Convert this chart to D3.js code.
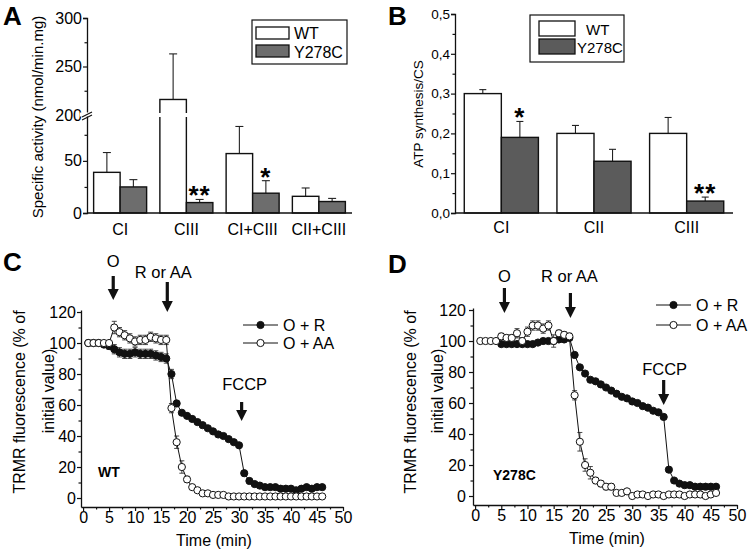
<!DOCTYPE html>
<html><head><meta charset="utf-8">
<script src="https://cdn.jsdelivr.net/npm/d3@7"></script>
<style>
body{margin:0;background:#fff}
svg{display:block}
text{font-family:"Liberation Sans",Arial,Helvetica,sans-serif;fill:#000}
</style>
</head><body>
<svg id="c" width="750" height="554"></svg>
<script>
// ---------------- DATA ----------------
// Panel A
const catsA = ["CI", "CIII", "CI+CIII", "CII+CIII"];
const wtA = [39, 216, 57, 16];
const wtErrA = [19, 47, 26, 8];
const mutA = [25, 10, 19, 11];
const mutErrA = [7, 3, 12, 3];
const sigA = ["", "**", "*", ""];
const majorTicksA = [0, 50, 200, 250, 300];
const minorTicksA = [25, 75, 225, 275];

// Panel B
const catsB = ["CI", "CII", "CIII"];
const wtB = [0.30, 0.20, 0.20];
const wtErrB = [0.01, 0.02, 0.04];
const mutB = [0.19, 0.13, 0.03];
const mutErrB = [0.04, 0.03, 0.01];
const sigB = ["*", "", "**"];
const majorTicksB = [0, 0.1, 0.2, 0.3, 0.4, 0.5];
const minorTicksB = [0.05, 0.15, 0.25, 0.35, 0.45];

const groups = ["WT", "Y278C"];

// Panel C (WT)
const timeC = [1,2,3,4,5,6,7,8,9,10,11,12,13,14,15,16,17,18,19,20,21,22,23,24,25,26,27,28,29,30,31,32,33,34,35,36,37,38,39,40,41,42,43,44,45,46];
const rotenoneC = [100,100,100,99,98,96,94,93,93,94,93,93,93,92,91,90,80,61,55,53,51,49,47,45,43,41,40,38,36,34,16,11,9,8,7,7,7,6,6,6,5,6,7,6,7,7];
const rotenoneErrC = [0,0,0,1,2,3,3,3,3,3,3,3,3,3,3,3,3,2,1,1,1,1,1,1,1,1,1,1,1,1,1,1,1,1,1,1,1,1,1,1,1,1,1,1,1,1];
const antimycinC = [100,100,100,100,100,110,107,105,103,101,102,102,104,103,102,102,58,36,20,12,7,5,3,3,2,2,2,1,1,1,1,1,1,1,1,1,1,1,1,1,1,1,1,1,1,1];
const antimycinErrC = [0,0,0,0,0,4,3,3,3,3,3,3,3,3,3,3,3,4,4,2,1,1,1,1,1,0,0,0,0,0,0,0,0,0,0,0,0,0,0,0,0,0,0,0,0,0];

// Panel D (Y278C)
const timeRD = [5,6,7,8,9,10,11,12,13,14,15,16,17,18,19,20,21,22,23,24,25,26,27,28,29,30,31,32,33,34,35,36,37,38,39,40,41,42,43,44,45,46];
const rotenoneD = [98,98,98,98,98,98,98,99,100,100,100,101,101,102,91,83,79,75,74,72,70,68,66,64,63,61,60,58,57,55,54,51,17,10,8,7,7,6,6,6,6,6];
const rotenoneErrD = [1,1,1,1,1,1,1,1,1,1,1,1,1,1,1,1,1,1,1,1,1,1,1,1,1,1,1,1,1,1,1,1,1,1,1,1,1,1,1,1,1,1];
const timeAD = [1,2,3,4,5,6,7,8,9,10,11,12,13,14,15,16,17,18,19,20,21,22,23,24,25,26,27,28,29,30,31,32,33,34,35,36,37,38,39,40,41,42,43,44,45,46];
const antimycinD = [100,100,100,100,103,102,102,105,100,106,110,110,108,110,100,105,104,103,65,35,20,15,10,8,6,6,2,2,3,0,1,1,0,1,1,0,1,1,1,0,1,1,1,0,1,2];
const antimycinErrD = [0,0,0,0,2,2,2,3,2,3,3,3,3,3,4,2,2,2,3,6,4,4,2,2,2,2,1,1,1,0,0,0,0,0,0,0,0,0,0,0,0,0,0,0,0,0];

const majorTicksT = [0,5,10,15,20,25,30,35,40,45,50];
const minorTicksT = [2.5,7.5,12.5,17.5,22.5,27.5,32.5,37.5,42.5,47.5];
const majorTicksF = [0,20,40,60,80,100,120];
const minorTicksF = [10,30,50,70,90,110];

const eventsC = [{label:"O", t:5.8}, {label:"R or AA", t:16.2}, {label:"FCCP", t:30.5}];
const eventsD = [{label:"O", t:5.6}, {label:"R or AA", t:18.2}, {label:"FCCP", t:36}];

// ---------------- DRAWING ----------------
const svg = d3.select("#c");
const FONT = '"Liberation Sans", Arial, Helvetica, sans-serif';
const INK = "#111";

function styleAxis(g, size) {
  g.selectAll("path.domain").attr("stroke", INK).attr("stroke-width", 1.3);
  g.selectAll(".tick line").attr("stroke", INK).attr("stroke-width", 1.2);
  g.selectAll("text").attr("font-family", FONT).attr("font-size", size).attr("fill", "#000");
  g.attr("font-family", FONT);
}

function panelLetter(x, y, s) {
  svg.append("text").attr("x", x).attr("y", y).attr("font-size", 26).attr("font-weight", "bold").text(s);
}

function barPanel(opts) {
  const { cats, wt, wtErr, mut, mutErr, sig, xRange, y, majors, minors, fmt, tickFont, catFont, catPad, grayColor, capW } = opts;
  const g = svg.append("g");
  const x = d3.scaleBand().domain(cats).range(xRange).paddingInner(0.2).paddingOuter(0.1);
  const xs = d3.scaleBand().domain(groups).range([0, x.bandwidth()]);
  const y0 = y(0);

  const ya = g.append("g").attr("transform", `translate(${xRange[0]},0)`)
    .call(d3.axisLeft(y).tickValues(majors).tickSize(4).tickPadding(1).tickFormat(fmt));
  styleAxis(ya, tickFont);
  const ym = g.append("g").attr("transform", `translate(${xRange[0]},0)`)
    .call(d3.axisLeft(y).tickValues(minors).tickSize(2.5).tickFormat(""));
  ym.select("path.domain").remove();
  styleAxis(ym, tickFont);

  const series = [
    { key: "WT", vals: wt, errs: wtErr, fill: "#fff" },
    { key: "Y278C", vals: mut, errs: mutErr, fill: grayColor }
  ];
  series.forEach(s => {
    const bars = g.append("g");
    cats.forEach((c, i) => {
      const bx = x(c) + xs(s.key);
      const top = y(s.vals[i] + s.errs[i]);
      bars.append("line").attr("x1", bx + xs.bandwidth()/2).attr("x2", bx + xs.bandwidth()/2)
        .attr("y1", y(s.vals[i])).attr("y2", top).attr("stroke", "#222").attr("stroke-width", 1.1);
      bars.append("line").attr("x1", bx + xs.bandwidth()/2 - capW/2).attr("x2", bx + xs.bandwidth()/2 + capW/2)
        .attr("y1", top).attr("y2", top).attr("stroke", "#222").attr("stroke-width", 1.1);
      bars.append("rect").attr("x", bx).attr("width", xs.bandwidth())
        .attr("y", y(s.vals[i])).attr("height", y0 - y(s.vals[i]))
        .attr("fill", s.fill).attr("stroke", INK).attr("stroke-width", 1.4);
    });
  });

  cats.forEach((c, i) => {
    if (!sig[i]) return;
    const cx = x(c) + xs("Y278C") + xs.bandwidth()/2;
    g.append("text").attr("x", cx).attr("y", y(mut[i] + mutErr[i]) + 5)
      .attr("text-anchor", "middle").attr("font-size", 26).attr("font-weight", "bold")
      .attr("letter-spacing", 1).text(sig[i]);
  });

  const xa = g.append("g").attr("transform", `translate(0,${y0})`)
    .call(d3.axisBottom(x).tickSize(0).tickPadding(catPad).tickSizeOuter(0));
  xa.select("path.domain").attr("d", `M${xRange[0]},0H${xRange[1]}`);
  styleAxis(xa, catFont);
  return { g, x, xs };
}

// ---------- Panel A ----------
const yA = d3.scaleLinear().domain([0, 94, 200, 300]).range([213, 115, 115, 18]);
const pA = barPanel({ cats: catsA, wt: wtA, wtErr: wtErrA, mut: mutA, mutErr: mutErrA, sig: sigA,
  xRange: [87, 352], y: yA, majors: majorTicksA, minors: minorTicksA, fmt: d3.format("d"),
  tickFont: 16, catFont: 16, catPad: 11, grayColor: "#6d6d6d", capW: 8 });
pA.g.append("rect").attr("x", 80).attr("y", 112.5).attr("width", 12).attr("height", 4).attr("fill", "#fff");
pA.g.append("line").attr("x1", 82).attr("y1", 117).attr("x2", 92).attr("y2", 112).attr("stroke", INK).attr("stroke-width", 1.2);
pA.g.append("line").attr("x1", 82).attr("y1", 120).attr("x2", 92).attr("y2", 115).attr("stroke", INK).attr("stroke-width", 1.2);
{
  const bx = pA.x("CIII") + pA.xs("WT");
  pA.g.append("rect").attr("x", bx - 2).attr("y", 113).attr("width", pA.xs.bandwidth() + 4).attr("height", 4).attr("fill", "#fff");
}
svg.append("text").attr("transform", "translate(43,117) rotate(-90)").attr("text-anchor", "middle")
  .attr("font-size", 15).text("Specific activity (nmol/min.mg)");
{
  const lg = svg.append("g");
  lg.append("rect").attr("x", 252).attr("y", 20).attr("width", 95).attr("height", 44).attr("fill", "#fff").attr("stroke", INK).attr("stroke-width", 1.2);
  lg.append("rect").attr("x", 256).attr("y", 27).attr("width", 33).attr("height", 12).attr("fill", "#fff").attr("stroke", INK).attr("stroke-width", 1.3);
  lg.append("rect").attr("x", 256).attr("y", 45).attr("width", 33).attr("height", 12).attr("fill", "#6d6d6d").attr("stroke", INK).attr("stroke-width", 1.3);
  lg.append("text").attr("x", 294).attr("y", 39).attr("font-size", 16).text(groups[0]);
  lg.append("text").attr("x", 294).attr("y", 58).attr("font-size", 16).text(groups[1]);
}
panelLetter(3, 25, "A");

// ---------- Panel B ----------
const yB = d3.scaleLinear().domain([0, 0.5]).range([213, 14]);
barPanel({ cats: catsB, wt: wtB, wtErr: wtErrB, mut: mutB, mutErr: mutErrB, sig: sigB,
  xRange: [455, 733], y: yB, majors: majorTicksB, minors: minorTicksB, fmt: d => d3.format(".1f")(d).replace(".", ","),
  tickFont: 13.5, catFont: 16, catPad: 9, grayColor: "#5b5b5b", capW: 7 });
svg.append("text").attr("transform", "translate(423,114) rotate(-90)").attr("text-anchor", "middle")
  .attr("font-size", 13.5).text("ATP synthesis/CS");
{
  const lg = svg.append("g");
  lg.append("rect").attr("x", 530).attr("y", 15).attr("width", 94).attr("height", 47).attr("fill", "#fff").attr("stroke", INK).attr("stroke-width", 1.2);
  lg.append("rect").attr("x", 539).attr("y", 21).attr("width", 36).attr("height", 15).attr("fill", "#fff").attr("stroke", INK).attr("stroke-width", 1.3);
  lg.append("rect").attr("x", 539).attr("y", 39).attr("width", 36).attr("height", 15).attr("fill", "#5b5b5b").attr("stroke", INK).attr("stroke-width", 1.3);
  lg.append("text").attr("x", 586).attr("y", 35).attr("font-size", 15).text(groups[0]);
  lg.append("text").attr("x", 577).attr("y", 53).attr("font-size", 15).text(groups[1]);
}
panelLetter(388, 25, "B");

// ---------- Time-course panels ----------
function arrow(g, x, y1, y2) {
  g.append("line").attr("x1", x).attr("x2", x).attr("y1", y1).attr("y2", y2 - 9).attr("stroke", INK).attr("stroke-width", 3.2);
  g.append("path").attr("d", `M${x-5.5},${y2-11}L${x+5.5},${y2-11}L${x},${y2}Z`).attr("fill", INK);
}

function tracePanel(o) {
  const g = svg.append("g");
  const x = d3.scaleLinear().domain([-0.4, 50]).range(o.xr);
  const y = d3.scaleLinear().domain([-5.8, 121.3]).range(o.yr);
  const ax = g.append("g").attr("transform", `translate(0,${o.yr[0]})`)
    .call(d3.axisBottom(x).tickValues(majorTicksT).tickSize(4).tickPadding(1).tickSizeOuter(0));
  styleAxis(ax, 16);
  const axm = g.append("g").attr("transform", `translate(0,${o.yr[0]})`)
    .call(d3.axisBottom(x).tickValues(minorTicksT).tickSize(2.5).tickFormat(""));
  axm.select("path.domain").remove(); styleAxis(axm, 16);
  const ay = g.append("g").attr("transform", `translate(${o.xr[0]},0)`)
    .call(d3.axisLeft(y).tickValues(majorTicksF).tickSize(4).tickPadding(o.yPad).tickSizeOuter(0));
  styleAxis(ay, 16);
  const aym = g.append("g").attr("transform", `translate(${o.xr[0]},0)`)
    .call(d3.axisLeft(y).tickValues(minorTicksF).tickSize(2.5).tickFormat(""));
  aym.select("path.domain").remove(); styleAxis(aym, 16);

  const line = d3.line().x(d => x(d[0])).y(d => y(d[1]));
  const series = [
    { t: o.tR, v: o.vR, e: o.eR, fill: INK },
    { t: o.tA, v: o.vA, e: o.eA, fill: "#fff" }
  ];
  series.forEach(s => {
    const pts = s.t.map((t, i) => [t, s.v[i], s.e[i]]);
    const eg = g.append("g").attr("stroke", "#333").attr("stroke-width", 0.9);
    pts.filter(p => p[2] > 0).forEach(p => {
      const cx = x(p[0]), lo = y(p[1] - p[2]), hi = y(p[1] + p[2]);
      eg.append("line").attr("x1", cx).attr("x2", cx).attr("y1", lo).attr("y2", hi);
      eg.append("line").attr("x1", cx - 2.5).attr("x2", cx + 2.5).attr("y1", hi).attr("y2", hi);
      eg.append("line").attr("x1", cx - 2.5).attr("x2", cx + 2.5).attr("y1", lo).attr("y2", lo);
    });
  });
  series.forEach(s => {
    const pts = s.t.map((t, i) => [t, s.v[i]]);
    g.append("path").datum(pts).attr("d", line).attr("fill", "none").attr("stroke", INK).attr("stroke-width", 1);
    g.selectAll(null).data(pts).enter().append("circle")
      .attr("cx", d => x(d[0])).attr("cy", d => y(d[1])).attr("r", 3.6)
      .attr("fill", s.fill).attr("stroke", INK).attr("stroke-width", 1);
  });

  const lgd = [{ fill: INK, label: "O + R" }, { fill: "#fff", label: "O + AA" }];
  lgd.forEach((l, i) => {
    const ly = o.legY + i * o.legDy;
    g.append("line").attr("x1", o.legX).attr("x2", o.legX + 35).attr("y1", ly).attr("y2", ly).attr("stroke", INK).attr("stroke-width", 1);
    g.append("circle").attr("cx", o.legX + 17.5).attr("cy", ly).attr("r", 3.6).attr("fill", l.fill).attr("stroke", INK);
    g.append("text").attr("x", o.legX + 40).attr("y", ly + 5.5).attr("font-size", 16).text(l.label);
  });

  o.events.forEach((ev, i) => {
    const cx = x(ev.t);
    const a = o.arrows[i];
    arrow(g, cx, a[0], a[1]);
    g.append("text").attr("x", cx + a[3]).attr("y", a[2]).attr("text-anchor", "middle").attr("font-size", 16.5).text(ev.label);
  });

  g.append("text").attr("x", (o.xr[0] + o.xr[1]) / 2 + 2).attr("y", o.yr[0] + 39).attr("text-anchor", "middle").attr("font-size", 16).text("Time (min)");
  g.append("text").attr("transform", `translate(${o.t1x},402) rotate(-90)`).attr("text-anchor", "middle").attr("dominant-baseline", "central")
    .attr("font-size", 16).text("TRMR fluorescence  (% of");
  g.append("text").attr("transform", `translate(${o.t2x},391) rotate(-90)`).attr("text-anchor", "middle").attr("dominant-baseline", "central")
    .attr("font-size", 16).text("initial value)");
  g.append("text").attr("x", o.nameX).attr("y", o.nameY).attr("font-size", 14).attr("font-weight", "bold").text(o.name);
}

tracePanel({
  xr: [81, 343], yr: [507, 310], yPad: 1,
  tR: timeC, vR: rotenoneC, eR: rotenoneErrC, tA: timeC, vA: antimycinC, eA: antimycinErrC,
  legX: 243, legY: 325, legDy: 18,
  events: eventsC, arrows: [[276, 300, 267, 0], [282, 312, 278, -4], [402, 421, 390, 3]],
  t1x: 19, t2x: 48, name: "WT", nameX: 98, nameY: 477
});
tracePanel({
  xr: [473, 737], yr: [505, 308], yPad: 3,
  tR: timeRD, vR: rotenoneD, eR: rotenoneErrD, tA: timeAD, vA: antimycinD, eA: antimycinErrD,
  legX: 656, legY: 305, legDy: 20,
  events: eventsD, arrows: [[288, 313, 282, 0], [293, 318, 282, -1], [380, 405, 375, 1]],
  t1x: 410, t2x: 437, name: "Y278C", nameX: 493, nameY: 480
});
panelLetter(3, 271, "C");
panelLetter(388, 273, "D");
</script>
</body></html>
